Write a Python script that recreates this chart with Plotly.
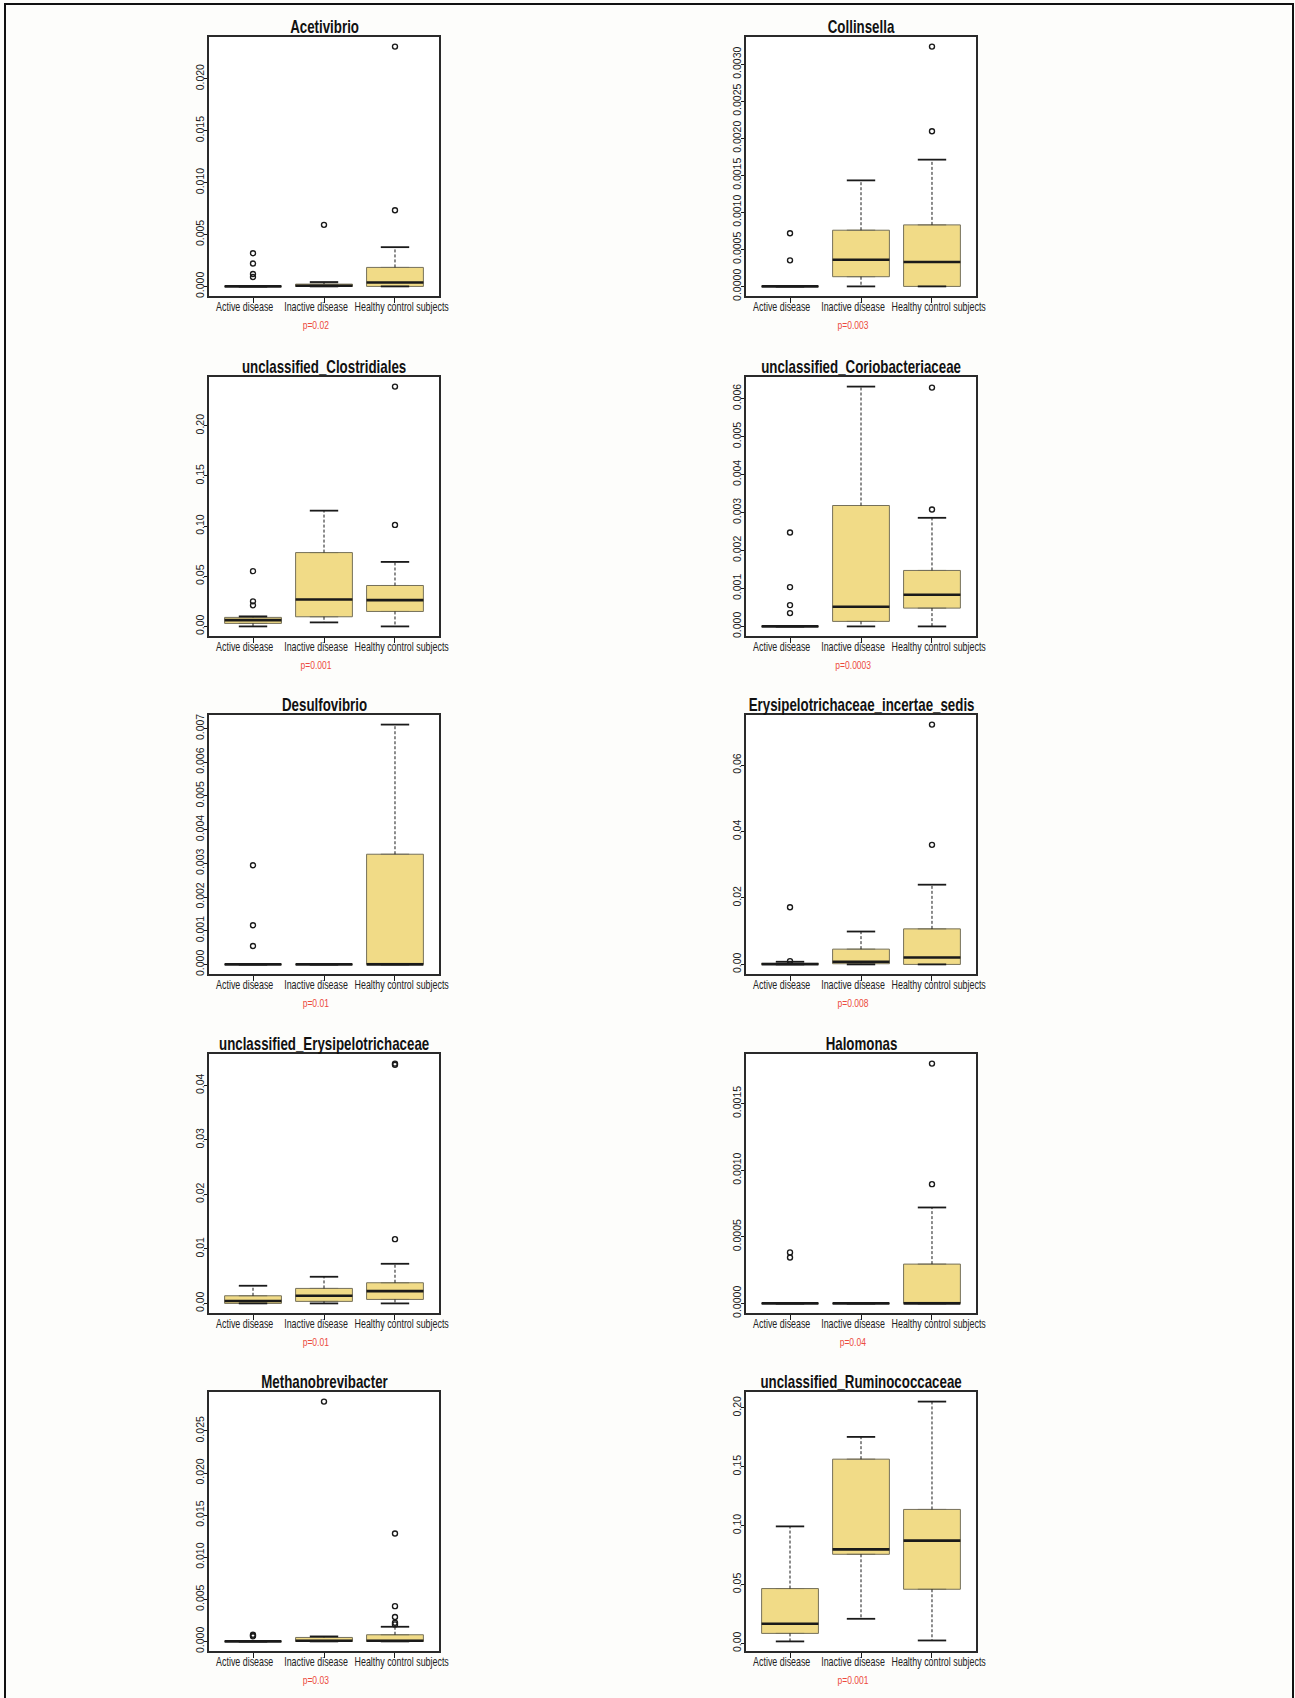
import plotly.graph_objects as go

# ---------------------------------------------------------------------------
# Data: relative abundance summaries per taxon and group
# ---------------------------------------------------------------------------
GROUPS = ["Active disease", "Inactive disease", "Healthy control subjects"]

TAXA = [
    "Acetivibrio",
    "Collinsella",
    "unclassified_Clostridiales",
    "unclassified_Coriobacteriaceae",
    "Desulfovibrio",
    "Erysipelotrichaceae_incertae_sedis",
    "unclassified_Erysipelotrichaceae",
    "Halomonas",
    "Methanobrevibacter",
    "unclassified_Ruminococcaceae",
]

P_VALUES = ["p=0.02", "p=0.003", "p=0.001", "p=0.0003", "p=0.01",
            "p=0.008", "p=0.01", "p=0.04", "p=0.03", "p=0.001"]

# five-number summaries (one row per taxon, one value per group)
LOWER_WHISKER = [
    [0.0, 0.0, 0.0],
    [0.0, 0.0, 0.0],
    [0.0, 0.004, 0.0],
    [0.0, 0.0, 0.0],
    [0.0, 0.0, 0.0],
    [0.0, 0.0, 0.0],
    [0.0, 0.0, 0.0],
    [0.0, 0.0, 0.0],
    [0.0, 0.0, 0.0],
    [0.0017, 0.0209, 0.0025],
]
Q1 = [
    [0.0, 0.0, 0.0],
    [0.0, 0.000131, 0.0],
    [0.0030, 0.0096, 0.0149],
    [0.0, 0.000132, 0.000482],
    [0.0, 0.0, 0.0],
    [0.0, 0.0002, 0.0],
    [0.0, 0.00037, 0.00073],
    [0.0, 0.0, 0.0],
    [0.0, 0.0, 0.0],
    [0.0085, 0.0757, 0.0460],
]
MEDIAN = [
    [0.0, 0.00006, 0.00038],
    [0.0, 0.000361, 0.00033],
    [0.0063, 0.0269, 0.0262],
    [0.0, 0.000518, 0.000833],
    [0.0, 0.0, 0.0],
    [0.0001, 0.0008, 0.0021],
    [0.00043, 0.0014, 0.00226],
    [0.0, 0.0, 0.0],
    [0.0, 0.00008, 0.00008],
    [0.0167, 0.0799, 0.0873],
]
Q3 = [
    [0.0, 0.00022, 0.00183],
    [0.0, 0.000759, 0.000831],
    [0.0090, 0.0736, 0.0408],
    [0.0, 0.003184, 0.001474],
    [0.0, 0.0, 0.00327],
    [0.0003, 0.0046, 0.0107],
    [0.0014, 0.00275, 0.00379],
    [0.0, 0.0, 0.000295],
    [0.0, 0.00047, 0.00079],
    [0.0466, 0.1565, 0.1138],
]
UPPER_WHISKER = [
    [0.0, 0.00042, 0.00378],
    [0.0, 0.001432, 0.001712],
    [0.0100, 0.1154, 0.0643],
    [0.0, 0.006316, 0.00286],
    [0.0, 0.0, 0.007117],
    [0.0008, 0.0099, 0.0240],
    [0.00324, 0.00489, 0.00727],
    [0.0, 0.0, 0.00072],
    [0.0, 0.00059, 0.00174],
    [0.0994, 0.1754, 0.2054],
]
OUTLIERS = [
    [[0.0032, 0.0022, 0.0012, 0.0009], [0.00593], [0.00734, 0.0231]],
    [[0.000718, 0.000352], [], [0.002096, 0.003239]],
    [[0.0551, 0.0250, 0.0210], [], [0.1012, 0.2391]],
    [[0.002474, 0.001035, 0.000561, 0.000351], [], [0.00308, 0.00629]],
    [[0.002942, 0.001163, 0.000547], [], []],
    [[0.0172, 0.0010], [], [0.0360, 0.0722]],
    [[], [], [0.01179, 0.0438, 0.0440]],
    [[0.000383, 0.000345], [], [0.000895, 0.0018]],
    [[0.0008, 0.0007, 0.0006], [0.02848], [0.01282, 0.00419, 0.00289, 0.00222, 0.00202]],
    [[], [], []],
]

Y_TICKS = [
    [0.0, 0.005, 0.010, 0.015, 0.020],
    [0.0, 0.0005, 0.0010, 0.0015, 0.0020, 0.0025, 0.0030],
    [0.0, 0.05, 0.10, 0.15, 0.20],
    [0.0, 0.001, 0.002, 0.003, 0.004, 0.005, 0.006],
    [0.0, 0.001, 0.002, 0.003, 0.004, 0.005, 0.006, 0.007],
    [0.0, 0.02, 0.04, 0.06],
    [0.0, 0.01, 0.02, 0.03, 0.04],
    [0.0, 0.0005, 0.0010, 0.0015],
    [0.0, 0.005, 0.010, 0.015, 0.020, 0.025],
    [0.0, 0.05, 0.10, 0.15, 0.20],
]
Y_TICK_TEXT = [
    ["0.000", "0.005", "0.010", "0.015", "0.020"],
    ["0.0000", "0.0005", "0.0010", "0.0015", "0.0020", "0.0025", "0.0030"],
    ["0.00", "0.05", "0.10", "0.15", "0.20"],
    ["0.000", "0.001", "0.002", "0.003", "0.004", "0.005", "0.006"],
    ["0.000", "0.001", "0.002", "0.003", "0.004", "0.005", "0.006", "0.007"],
    ["0.00", "0.02", "0.04", "0.06"],
    ["0.00", "0.01", "0.02", "0.03", "0.04"],
    ["0.0000", "0.0005", "0.0010", "0.0015"],
    ["0.000", "0.005", "0.010", "0.015", "0.020", "0.025"],
    ["0.00", "0.05", "0.10", "0.15", "0.20"],
]

# ---------------------------------------------------------------------------
# Styling and page layout
# ---------------------------------------------------------------------------
W, H = 1295, 1698
FILL = "#F1DB87"
EDGE = "#75705A"
INK = "#1a1a1a"
RED = "#EC4A3C"
SANS = "Liberation Sans, Arial, Helvetica, sans-serif"
TEXT_SQUEEZE = 0.74          # horizontal squeeze of the (narrow) label lettering

COL_X = [(209, 439), (746, 976)]
ROW_TOP = [37, 377, 715, 1054, 1392]
PANEL_H = 259
BOX_W = 0.8
LABEL_SHIFT = [-8, -8, 7]    # px nudge of each group label


def fx(p):
    return p / W


def fy(p):
    return 1 - p / H


fig = go.Figure()
annotations = []

for k, taxon in enumerate(TAXA):
    row, col = divmod(k, 2)
    suffix = "" if k == 0 else str(k + 1)
    xa, ya = "x" + suffix, "y" + suffix
    x0, x1 = COL_X[col]
    top = ROW_TOP[row]
    bottom = top + PANEL_H
    pos = [1, 2, 3]

    # boxes (interquartile range)
    fig.add_trace(go.Box(
        x=pos, q1=Q1[k], median=MEDIAN[k], q3=Q3[k],
        lowerfence=Q1[k], upperfence=Q3[k],
        width=BOX_W, fillcolor=FILL, line=dict(color=EDGE, width=1),
        boxpoints=False, xaxis=xa, yaxis=ya, showlegend=False,
        hoverinfo="skip",
    ))

    wx, wy, cx, cy, mx, my = [], [], [], [], [], []
    for g, p in enumerate(pos):
        wx += [p, p, None, p, p, None]
        wy += [Q3[k][g], UPPER_WHISKER[k][g], None, Q1[k][g], LOWER_WHISKER[k][g], None]
        cx += [p - BOX_W / 4, p + BOX_W / 4, None, p - BOX_W / 4, p + BOX_W / 4, None]
        cy += [UPPER_WHISKER[k][g]] * 2 + [None] + [LOWER_WHISKER[k][g]] * 2 + [None]
        mx += [p - BOX_W / 2, p + BOX_W / 2, None]
        my += [MEDIAN[k][g]] * 2 + [None]

    # dashed whiskers
    fig.add_trace(go.Scatter(x=wx, y=wy, mode="lines", xaxis=xa, yaxis=ya,
                             line=dict(color=INK, width=1, dash="3px,2px"),
                             showlegend=False, hoverinfo="skip"))
    # whisker caps
    fig.add_trace(go.Scatter(x=cx, y=cy, mode="lines", xaxis=xa, yaxis=ya,
                             line=dict(color=INK, width=1.8),
                             showlegend=False, hoverinfo="skip"))
    # medians
    fig.add_trace(go.Scatter(x=mx, y=my, mode="lines", xaxis=xa, yaxis=ya,
                             line=dict(color=INK, width=2.6),
                             showlegend=False, hoverinfo="skip"))
    # outliers
    ox, oy = [], []
    for g, p in enumerate(pos):
        ox += [p] * len(OUTLIERS[k][g])
        oy += OUTLIERS[k][g]
    fig.add_trace(go.Scatter(x=ox, y=oy, mode="markers", xaxis=xa, yaxis=ya,
                             marker=dict(symbol="circle-open", size=5, color=INK,
                                         line=dict(width=1.4, color=INK)),
                             showlegend=False, hoverinfo="skip"))

    # y range: data span padded by 4% on each side
    values = (LOWER_WHISKER[k] + UPPER_WHISKER[k]
              + [v for grp in OUTLIERS[k] for v in grp])
    lo, hi = min(values), max(values)
    pad = 0.04 * (hi - lo)

    fig.layout["xaxis" + suffix] = dict(
        domain=[fx(x0), fx(x1)], anchor=ya, range=[0.38, 3.62],
        tickmode="array", tickvals=pos, showticklabels=False,
        ticks="outside", ticklen=5, tickwidth=1.3, tickcolor=INK,
        showline=True, mirror=True, linecolor="#2a2a2a", linewidth=1.6,
        showgrid=False, zeroline=False, fixedrange=True, automargin=False,
    )
    fig.layout["yaxis" + suffix] = dict(
        domain=[fy(bottom), fy(top)], anchor=xa, range=[lo - pad, hi + pad],
        tickmode="array", tickvals=Y_TICKS[k], ticktext=Y_TICK_TEXT[k],
        tickangle=-90, ticks="outside", ticklen=3, tickwidth=1.3, tickcolor=INK,
        ticklabelstandoff=-4,
        showline=True, mirror=True, linecolor="#2a2a2a", linewidth=1.6,
        showgrid=False, zeroline=False, fixedrange=True, automargin=False,
        tickfont=dict(family=SANS, size=10.5, color=INK),
    )

    # group labels under the ticks
    for g, p in enumerate(pos):
        annotations.append(dict(
            text=GROUPS[g], xref=xa, yref="paper", x=p, y=fy(bottom + 11),
            xanchor="center", yanchor="middle", xshift=LABEL_SHIFT[g],
            showarrow=False, font=dict(family=SANS, size=12, color="#222"),
        ))

    # panel title
    annotations.append(dict(
        text="<b>" + taxon + "</b>", xref="paper", yref="paper",
        x=fx((x0 + x1) / 2), y=fy(top - 10), xanchor="center", yanchor="middle",
        showarrow=False, font=dict(family=SANS, size=18, color="#111"),
    ))
    # p-value under the middle group
    annotations.append(dict(
        text=P_VALUES[k], xref=xa, yref="paper", x=2, y=fy(bottom + 29),
        xanchor="center", yanchor="middle", xshift=LABEL_SHIFT[1], showarrow=False,
        font=dict(family=SANS, size=11.5, color=RED),
    ))

fig.update_layout(
    width=W, height=H, autosize=False,
    margin=dict(l=0, r=0, t=0, b=0),
    paper_bgcolor="#FDFDFB", plot_bgcolor="#FFFFFF",
    annotations=annotations,
    shapes=[dict(type="rect", xref="paper", yref="paper",
                 x0=fx(5), x1=fx(1293), y0=-0.05, y1=fy(4),
                 line=dict(color="#111", width=2), fillcolor="rgba(0,0,0,0)")],
)

# narrow lettering for titles, group labels and p-values
squeeze_css = (
    "var s = document.createElement('style');"
    "s.textContent = '.annotation-text{transform-box:fill-box;"
    "transform-origin:center;transform:scaleX(%s);}';"
    "document.head.appendChild(s);" % TEXT_SQUEEZE
)

fig.write_html("out.html", post_script=squeeze_css)
